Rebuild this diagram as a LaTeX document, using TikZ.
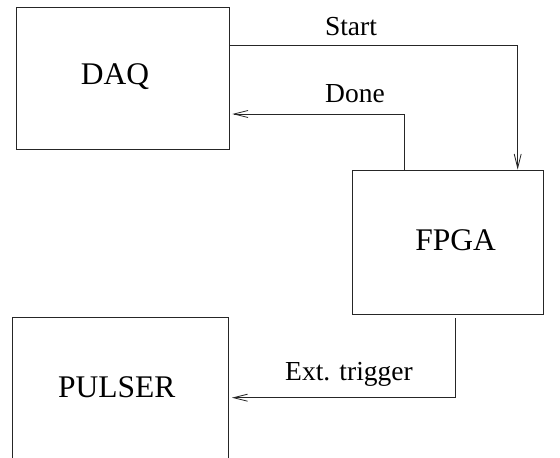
\documentclass[tikz,border=0pt]{standalone}
\usepackage{fontspec}
\setmainfont{Liberation Serif}
\usetikzlibrary{arrows.meta}
\begin{document}
\begin{tikzpicture}[x=1pt,y=1pt,
  boxnode/.style={draw=black!85, line width=0.8pt, rectangle, inner sep=0pt},
  boxtext/.style={font=\fontsize{31.5}{36}\selectfont, inner sep=0pt},
  lbl/.style={font=\fontsize{27.5}{32}\selectfont, anchor=base, inner sep=0pt},
  conn/.style={draw=black!85, line width=0.8pt},
  arr/.style={conn, -{Straight Barb[length=14pt,width=7pt]}}]
\useasboundingbox (0,0) rectangle (560,-458);
\clip (0,0) rectangle (560,-458);
\node[boxnode, minimum width=213pt, minimum height=142pt] (daq) at (122.5,-78) {};
\node[boxtext] (daqtext) at (115,-77) {DAQ};
\node[boxnode, minimum width=191pt, minimum height=144pt] (fpga) at (447.5,-242) {};
\node[boxtext] (fpgatext) at (455.7,-240) {FPGA};
\node[boxnode, minimum width=216pt, minimum height=160pt] (pulser) at (120.5,-397) {};
\node[boxtext] (pulsertext) at (116.7,-387) {PULSER};
\coordinate (startbend) at (517.7,-45.7);
\coordinate (donebend) at (404.3,-114);
\coordinate (trigbend) at (455.7,-397.7);
\draw[arr] (daq.east |- startbend) -- (startbend) -- (fpga.north -| startbend);
\draw[arr] (fpga.north -| donebend) -- (donebend) -- ([xshift=3pt]daq.east |- donebend);
\draw[arr] ([yshift=-4pt]fpga.south -| trigbend) -- (trigbend) -- ([xshift=3pt]pulser.east |- trigbend);
\node[lbl] (startlbl) at (351,-35) {Start};
\node[lbl] (donelbl) at (355,-102) {Done};
\node[lbl] (triglbl) at (349,-380) {Ext. trigger};
\end{tikzpicture}
\end{document}
